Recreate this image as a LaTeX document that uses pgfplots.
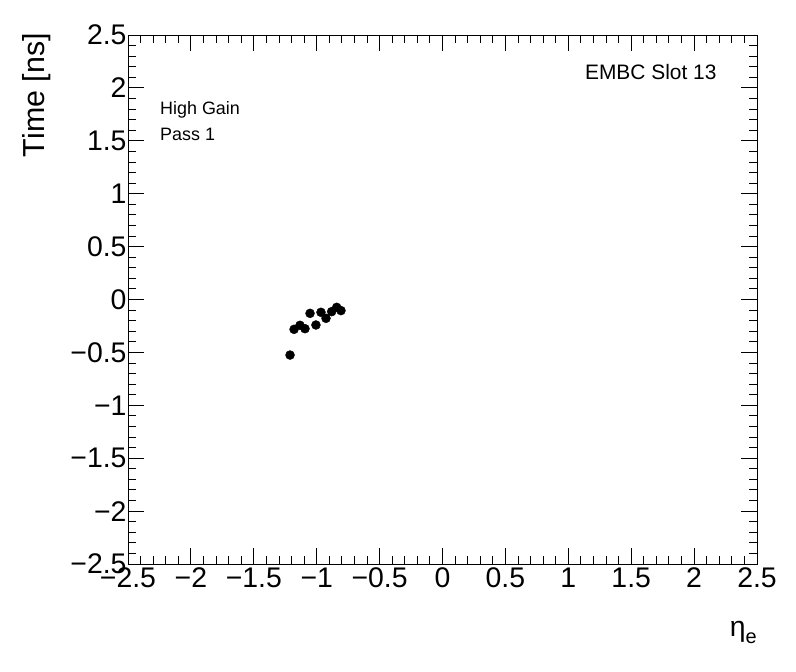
\documentclass[border=0pt]{standalone}
\usepackage{pgfplots}
\pgfplotsset{compat=1.18}
\usepackage{fontspec}
\setmainfont{Liberation Sans}

\begin{document}
\begin{tikzpicture}
\useasboundingbox (-128bp,-108bp) rectangle (668bp,564bp);
\begin{axis}[
  width=629bp, height=529bp, scale only axis,
  xmin=-2.5, xmax=2.5, ymin=-2.5, ymax=2.5,
  xtick={-2.5,-2,...,2.5}, ytick={-2.5,-2,...,2.5},
  xticklabels={−2.5,−2,−1.5,−1,−0.5,0,0.5,1,1.5,2,2.5},
  yticklabels={−2.5,−2,−1.5,−1,−0.5,0,0.5,1,1.5,2,2.5},
  minor x tick num=4, minor y tick num=4,
  tick align=inside, major tick length=16bp, minor tick length=8bp,
  tick style={black, line width=0.9bp},
  axis line style={line width=0.9bp},
  ticklabel style={font=\fontsize{28.5}{32}\selectfont},
  yticklabel style={xshift=2bp},
  clip=false,
]
\addplot[only marks, mark=*, mark size=4.5bp, black] coordinates {
  (-1.212,-0.525) (-1.180,-0.282) (-1.133,-0.244) (-1.093,-0.276)
  (-1.053,-0.131) (-1.006,-0.241) (-0.966,-0.121) (-0.926,-0.178)
  (-0.881,-0.115) (-0.841,-0.074) (-0.807,-0.105)
};
\end{axis}
\node[anchor=base west, font=\fontsize{18}{20}\selectfont, inner sep=0] at (32bp,449.7bp) {High Gain};
\node[anchor=base west, font=\fontsize{18}{20}\selectfont, inner sep=0] at (32bp,423.3bp) {Pass 1};
\node[anchor=base east, font=\fontsize{21}{24}\selectfont, inner sep=0] at (588.7bp,484.7bp) {EMBC Slot 13};
\node[anchor=base east, rotate=90, font=\fontsize{30.5}{34}\selectfont, inner sep=0] at (-83.7bp,531bp) {Time [ns]};
\node[anchor=base east, font=\fontsize{28.5}{32}\selectfont, inner sep=0] at (629bp,-72bp) {η\raisebox{-7bp}{\fontsize{20}{24}\selectfont e}};
\end{tikzpicture}
\end{document}
